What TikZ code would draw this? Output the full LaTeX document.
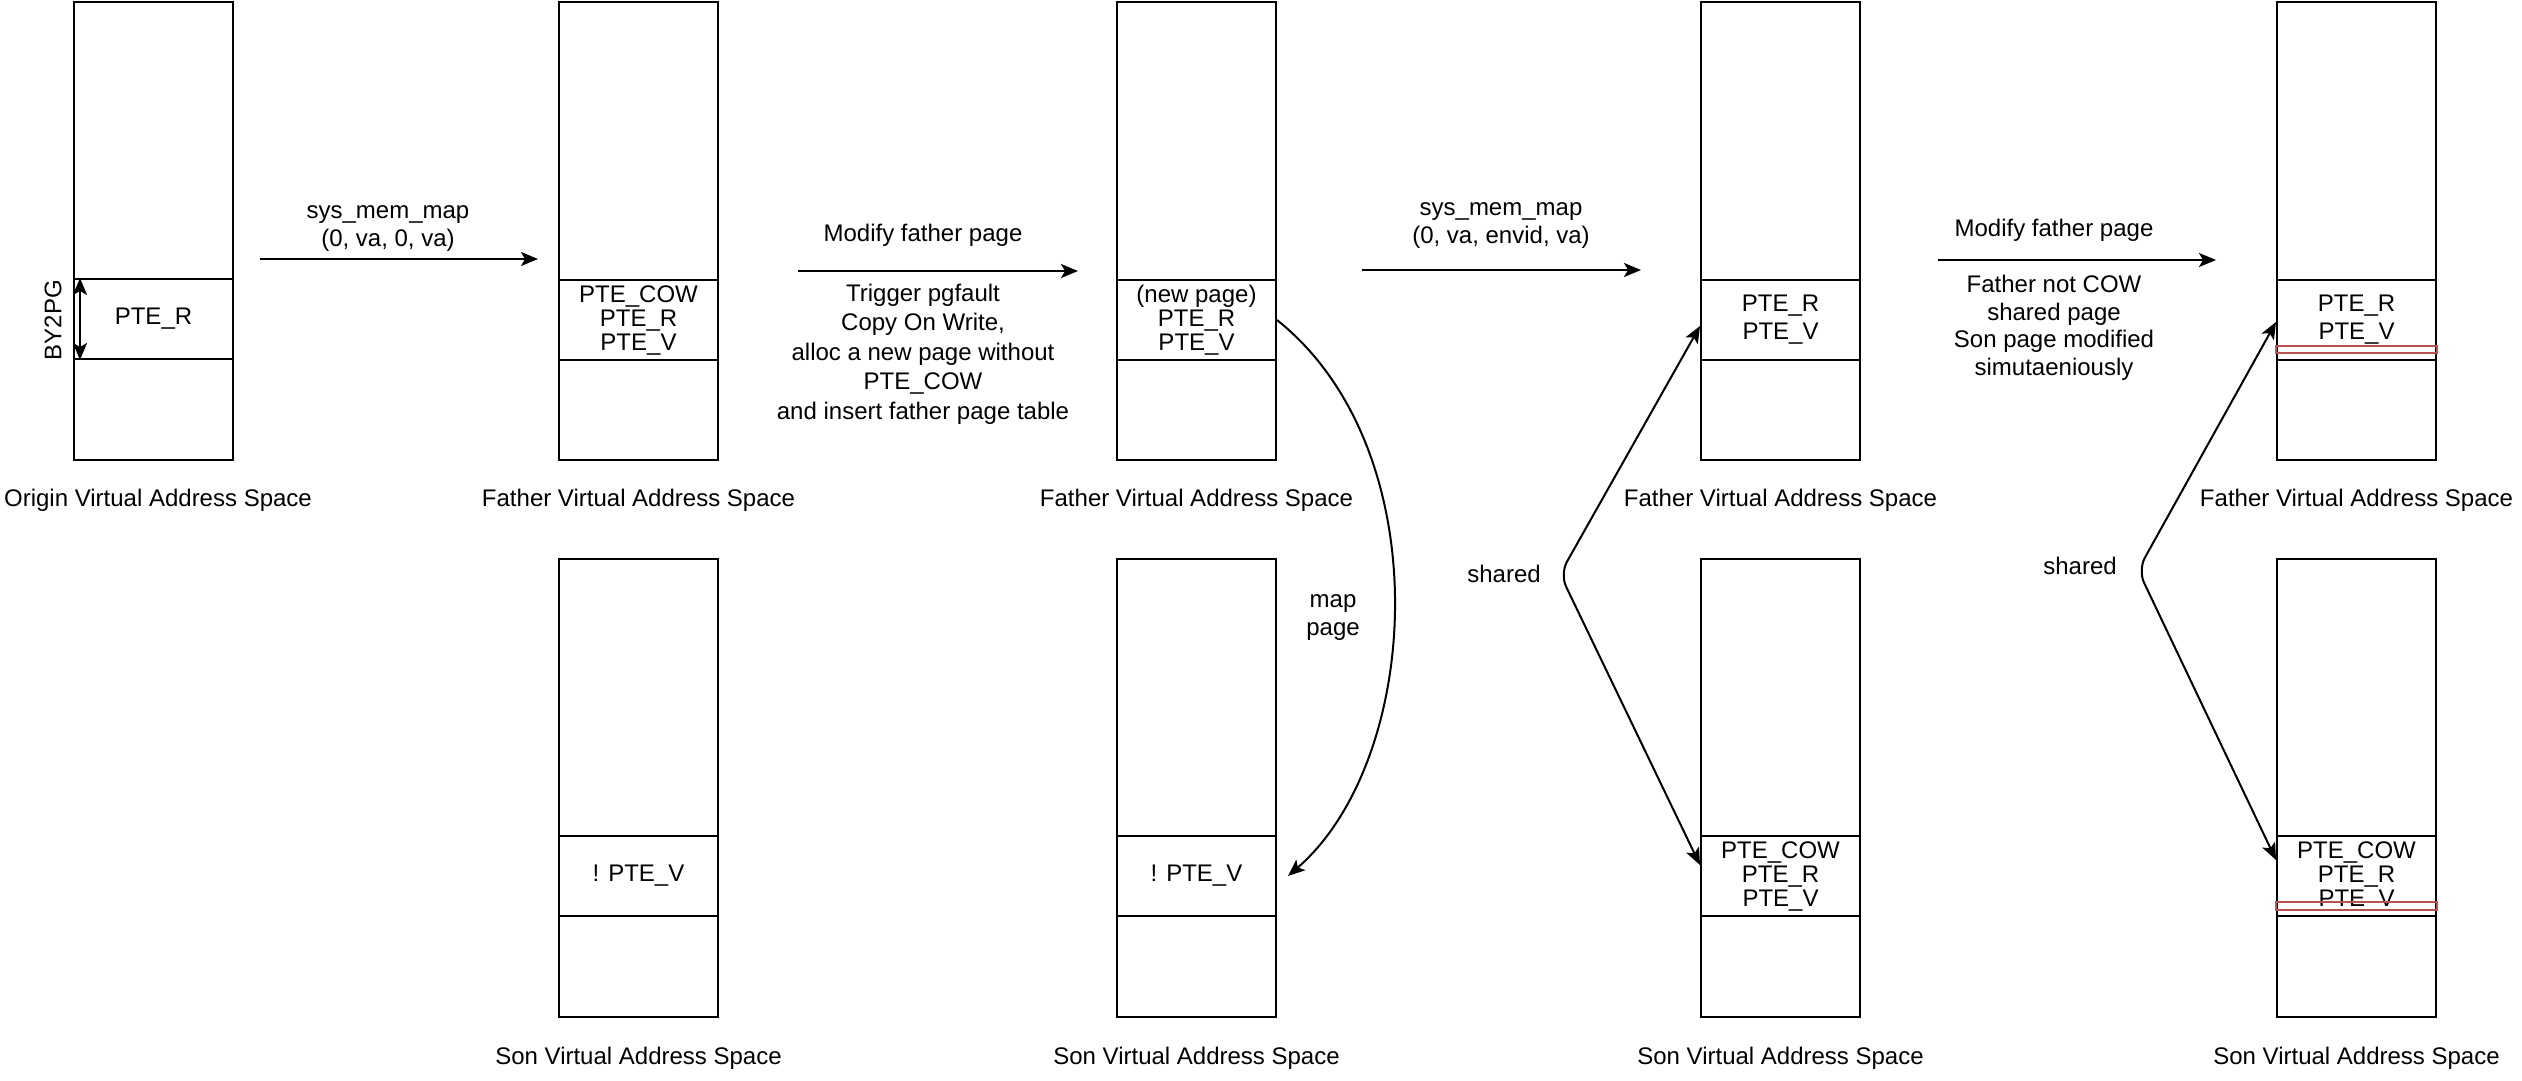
\documentclass[tikz,border=0pt]{standalone}
\usepackage{fontspec}
\setmainfont{Liberation Sans}
\usetikzlibrary{arrows.meta,calc}
\definecolor{redline}{HTML}{B85450}
\begin{document}
\begin{tikzpicture}[x=1pt,y=-1pt,
  every node/.style={font=\fontsize{24}{28}\selectfont, inner sep=0pt, align=center},
  box/.style={draw, line width=2pt, minimum width=159pt, minimum height=458pt},
  cellbox/.style={draw, line width=2pt, minimum width=159pt, minimum height=80pt, align=center},
  three/.style={font=\fontsize{24}{24}\selectfont},
  arr/.style={line width=2pt, -{Stealth[length=17pt,width=14pt,inset=4pt]}},
  dblarr/.style={line width=2pt, {Stealth[length=17pt,width=14pt,inset=4pt]}-{Stealth[length=17pt,width=14pt,inset=4pt]}},
  redmark/.style={draw=redline, line width=1.5pt}
]
\useasboundingbox (0,0) rectangle (2522,1080);

% ---- Origin column
\node[box] (b1) at (153.5,231) {};
\node[cellbox] (b1c) at (153.5,319) {PTE\_R};
\node (b1l) at (158,500) {Origin Virtual Address Space};
\node[rotate=90] (by) at (53,320) {BY2PG};
\draw[dblarr] ($(b1c.north west)+(7,0)$) -- ($(b1c.south west)+(7,0)$);

% ---- Father columns
\node[box] (f1) at (638.5,231) {};
\node[cellbox,three] (f1c) at (638.5,320) {PTE\_COW\\PTE\_R\\PTE\_V};
\node (f1l) at (638.5,500) {Father Virtual Address Space};

\node[box] (f2) at (1196.5,231) {};
\node[cellbox,three] (f2c) at (1196.5,320) {(new page)\\PTE\_R\\PTE\_V};
\node (f2l) at (1196.5,500) {Father Virtual Address Space};

\node[box] (f3) at (1780.5,231) {};
\node[cellbox] (f3c) at (1780.5,320) {PTE\_R\\PTE\_V};
\node (f3l) at (1780.5,500) {Father Virtual Address Space};

\node[box] (f4) at (2356.5,231) {};
\node[cellbox] (f4c) at (2356.5,320) {PTE\_R\\PTE\_V};
\node (f4l) at (2356.5,500) {Father Virtual Address Space};
\draw[redmark] ($(f4c.west)+(0,26)$) rectangle ($(f4c.east)+(0,33)$);

% ---- Son columns
\node[box] (s1) at (638.5,788) {};
\node[cellbox] (s1c) at (638.5,876) {! PTE\_V};
\node (s1l) at (638.5,1058) {Son Virtual Address Space};

\node[box] (s2) at (1196.5,788) {};
\node[cellbox] (s2c) at (1196.5,876) {! PTE\_V};
\node (s2l) at (1196.5,1058) {Son Virtual Address Space};

\node[box] (s3) at (1780.5,788) {};
\node[cellbox,three] (s3c) at (1780.5,876) {PTE\_COW\\PTE\_R\\PTE\_V};
\node (s3l) at (1780.5,1058) {Son Virtual Address Space};

\node[box] (s4) at (2356.5,788) {};
\node[cellbox,three] (s4c) at (2356.5,876) {PTE\_COW\\PTE\_R\\PTE\_V};
\node (s4l) at (2356.5,1058) {Son Virtual Address Space};
\draw[redmark] ($(s4c.west)+(0,26)$) rectangle ($(s4c.east)+(0,34)$);

% ---- Step arrows
\coordinate (a1s) at (260,259);
\coordinate (a1e) at (538,259);
\draw[arr] (a1s) -- (a1e);
\node (a1t) at (388,229) {sys\_mem\_map\\(0, va, 0, va)};

\coordinate (a2s) at (798,271);
\coordinate (a2e) at (1078,271);
\draw[arr] (a2s) -- (a2e);
\node (a2t) at (923,235) {Modify father page};
\node[font=\fontsize{24}{29.5}\selectfont] (a2b) at (923,354) {Trigger pgfault\\Copy On Write,\\alloc a new page without\\PTE\_COW\\and insert father page table};

\coordinate (a3s) at (1362,270);
\coordinate (a3e) at (1641,270);
\draw[arr] (a3s) -- (a3e);
\node (a3t) at (1501,226) {sys\_mem\_map\\(0, va, envid, va)};

\coordinate (a4s) at (1938,260);
\coordinate (a4e) at (2216,260);
\draw[arr] (a4s) -- (a4e);
\node (a4t) at (2054,230) {Modify father page};
\node[font=\fontsize{24}{27.5}\selectfont] (a4b) at (2054,328) {Father not COW\\shared page\\Son page modified\\simutaeniously};

% ---- map page curve
\draw[arr] (f2c.east) .. controls (1440,450) and (1422,760) .. ($(s2c.east)+(11,0)$);
\node (mp) at (1333,618) {map\\page};

% ---- shared arrows
\coordinate (ap3) at (1560,574);
\draw[dblarr, rounded corners=14pt] ($(f3c.west)+(0,6)$) -- (ap3) -- ($(s3c.west)+(0,-11)$);
\node (sh3) at (1504,574) {shared};

\coordinate (ap4) at (2138,570);
\draw[dblarr, rounded corners=14pt] ($(f4c.west)+(0,2)$) -- (ap4) -- ($(s4c.west)+(0,-16)$);
\node (sh4) at (2080,566) {shared};
\end{tikzpicture}
\end{document}
